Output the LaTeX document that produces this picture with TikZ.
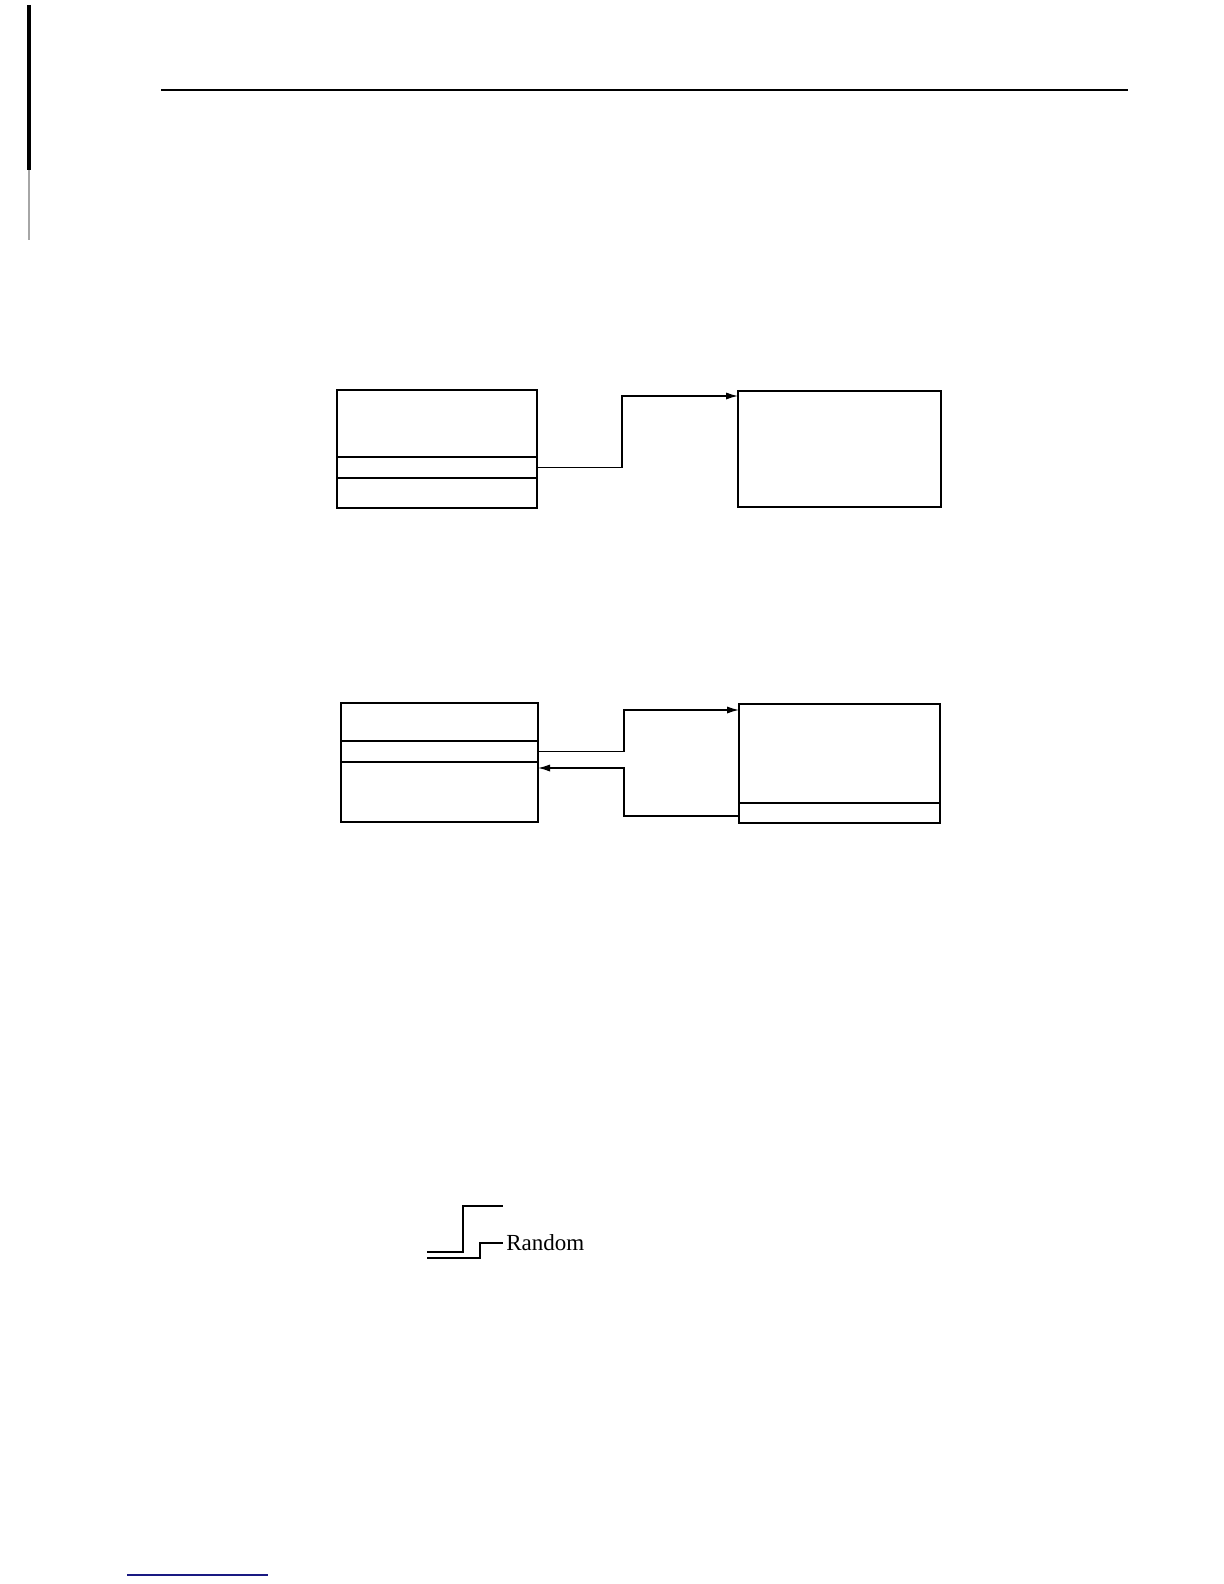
\documentclass[tikz,border=0pt]{standalone}
\usepackage{fontspec}
\setmainfont{Liberation Serif}
\usetikzlibrary{calc}
\usetikzlibrary{positioning,arrows.meta}
\definecolor{footblue}{RGB}{25,25,130}
\tikzstyle{part} = [rectangle, draw=black, line width=0.9pt, inner sep=0pt, outer sep=0pt, anchor=north west]
\tikzstyle{arrow} = [-{Latex[length=6pt,width=3.6pt]}, line width=0.7pt]
\tikzstyle{wire} = [line width=0.6pt]

\begin{document}
\begin{tikzpicture}[x=0.5pt,y=-0.5pt]
		\useasboundingbox (0,0) rectangle (1224,1584);
		
		% page edges
		\draw [line width=1.6pt] (29,5) -- (29,170);
		\draw [line width=1.2pt, gray!70] (29,170) -- (29,240);
		\draw [line width=0.8pt] (161,90) -- (1128,90);
		\draw [footblue, line width=0.7pt] (127,1575) -- (268,1575);
		
		% first figure
		\node (a1-top) [part, minimum width=100pt, minimum height=33.5pt] at (337,390) {};
		\node (a1-mid) [part, minimum width=100pt, minimum height=10.5pt] at (a1-top.south west) {};
		\node (a1-bot) [part, minimum width=100pt, minimum height=15pt] at (a1-mid.south west) {};
		\node (b1) [part, minimum width=101.5pt, minimum height=58pt] at (738,391) {};
		
		\draw [arrow] (a1-mid.east) -- ++(85,0) |- ($(b1.north west)+(0,5)$);
		
		% second figure
		\node (a2-top) [part, minimum width=98.5pt, minimum height=19pt] at (341,703) {};
		\node (a2-mid) [part, minimum width=98.5pt, minimum height=10.5pt] at (a2-top.south west) {};
		\node (a2-bot) [part, minimum width=98.5pt, minimum height=30pt] at (a2-mid.south west) {};
		\node (b2-top) [part, minimum width=100.5pt, minimum height=49.5pt] at (739,704) {};
		\node (b2-bot) [part, minimum width=100.5pt, minimum height=10pt] at (b2-top.south west) {};
		
		\draw [arrow] (a2-mid.east) -- ++(86,0) |- ($(b2-top.north west)+(0,6)$);
		\draw [arrow] ($(b2-bot.west)+(0,3)$) -- ++(-115,0) |- ($(a2-bot.north east)+(0,6)$);
		
		% third figure
		\node (random) [anchor=west, inner sep=1.5pt, font=\fontsize{11.5}{14}\selectfont] at (503,1243) {Random};
		\coordinate (in-a) at (427,1252);
		\coordinate (in-b) at (427,1258);
		\coordinate (out-a) at (503,1206);
		\draw [wire] (in-a) -- ++(36,0) |- (out-a);
		\draw [wire] (in-b) -- ++(53,0) |- (random.west);
		
	\end{tikzpicture}
\end{document}
